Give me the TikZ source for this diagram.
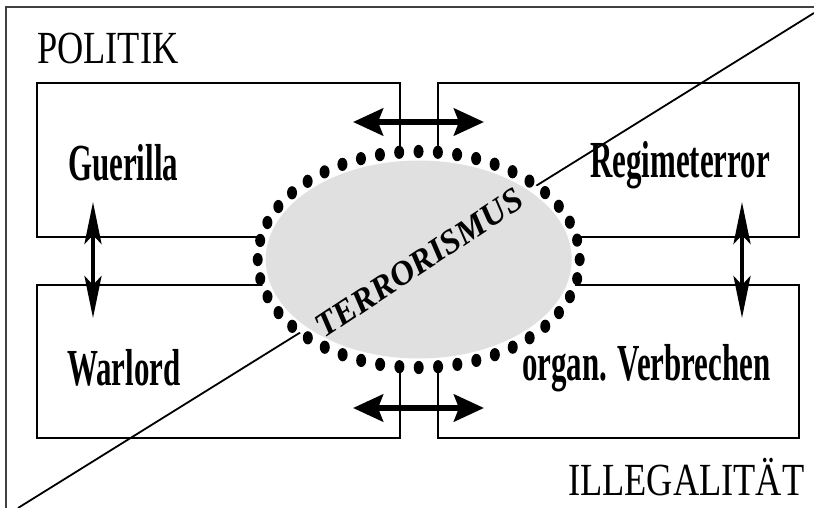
\documentclass[tikz,border=0pt]{standalone}
\usepackage{fontspec}
\setmainfont{Liberation Serif}
\newfontfamily\bigfont[FakeStretch=0.79]{Liberation Serif}
\newfontfamily\labfont[FakeStretch=0.595]{Liberation Serif}
\newfontfamily\termfont{Liberation Serif}
\usetikzlibrary{arrows.meta,decorations.markings}
\tikzset{
  boxedge/.style={line width=2pt, black},
  diagline/.style={line width=1.8pt, black},
  framebar/.style={line width=1.3pt, black!75},
  harrow/.style={line width=6pt, {Stealth[length=30pt,width=27pt,inset=5pt]}-{Stealth[length=30pt,width=27pt,inset=5pt]}},
  varrow/.style={line width=4.5pt, {Stealth[length=42pt,width=17pt,inset=9pt]}-{Stealth[length=42pt,width=17pt,inset=9pt]}},
  bigword/.style={inner sep=0pt, anchor=base west, font=\bigfont\fontsize{46}{46}\selectfont},
  labword/.style={inner sep=0pt, anchor=base west, font=\labfont\bfseries\fontsize{52}{52}\selectfont},
  dotring/.style={decoration={markings, mark=between positions 0 and 0.99 step 1/44 with {\pgftransformresetnontranslations\fill[black] (0,0) ellipse [x radius=5pt, y radius=6.6pt];}}, decorate}
}
\begin{document}
\begin{tikzpicture}[x=1pt,y=-1pt]
\useasboundingbox (0,0) rectangle (814,508);
\fill[white] (0,0) rectangle (814,508);
% frame
\draw[framebar] (6,508) -- (6,7) -- (814,7);
% boxes
\draw[boxedge] (37,83) rectangle (400,237);
\draw[boxedge] (438,83) rectangle (799,237);
\draw[boxedge] (37,285) rectangle (400,438);
\draw[boxedge] (438,285) rectangle (799,438);
% diagonal
\coordinate (dlow) at (18,508);
\coordinate (dhigh) at (814,13);
\draw[diagline] (dlow) -- (dhigh);
% central ellipse
\coordinate (ctr) at (418.7,259.5);
\fill[white] (ctr) ellipse [x radius=161, y radius=108];
\fill[black!12] (ctr) ellipse [x radius=153, y radius=99];
\path[dotring] (ctr) ellipse [x radius=161, y radius=108];
\node[rotate=33.5, inner sep=0pt, font=\termfont\bfseries\itshape\fontsize{34}{34}\selectfont] (terr) at (419,263) {TERRORISMUS};
% arrows
\coordinate (ha1) at (353,122); \coordinate (ha2) at (484,122);
\coordinate (hb1) at (353,408); \coordinate (hb2) at (484,408);
\coordinate (va1) at (93,202); \coordinate (va2) at (93,318);
\coordinate (vb1) at (742,202); \coordinate (vb2) at (742,318);
\draw[harrow] (ha1) -- (ha2);
\draw[harrow] (hb1) -- (hb2);
\draw[varrow] (va1) -- (va2);
\draw[varrow] (vb1) -- (vb2);
% labels
\node[bigword] (pol) at (37,64) {POLITIK};
\node[bigword] (ill) at (568,495) {ILLEGALITÄT};
\node[labword] (gue) at (68,180) {Guerilla};
\node[labword] (reg) at (590,177) {Regimeterror};
\node[labword] (war) at (67,385) {Warlord};
\node[labword] (org) at (522,380) {organ. Verbrechen};
\end{tikzpicture}
\end{document}
